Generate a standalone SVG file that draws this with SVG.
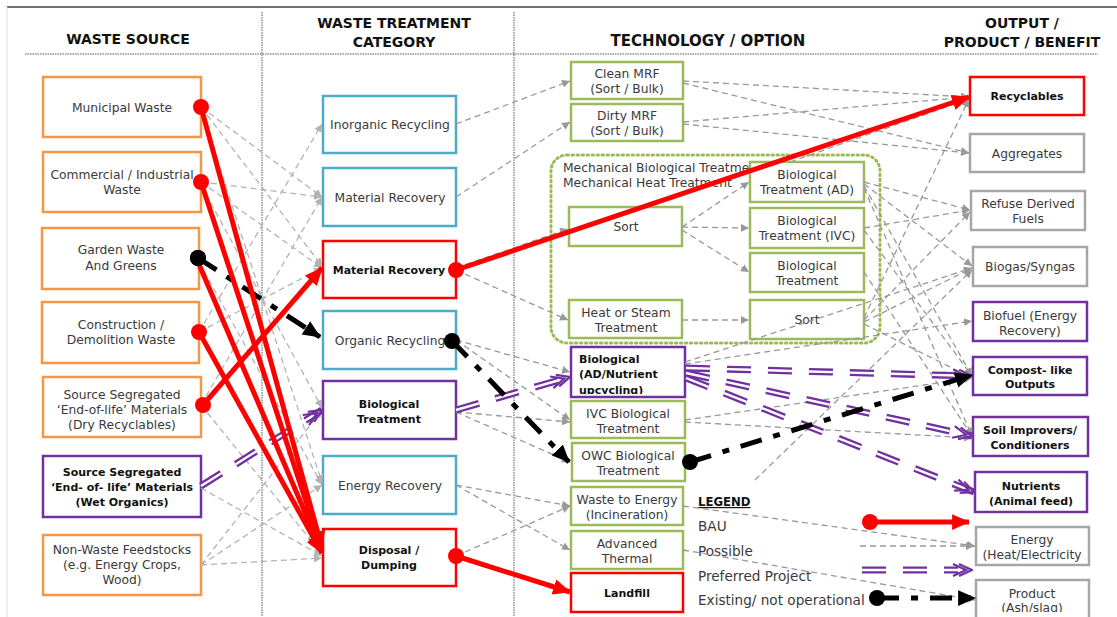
<svg xmlns="http://www.w3.org/2000/svg" width="1117" height="617" viewBox="0 0 1117 617">
<defs>
<style>
text{font-family:"DejaVu Sans","Liberation Sans",sans-serif;font-size:12.3px;fill:#3a3a3a;text-anchor:middle}
.hd{font-size:14px;font-weight:bold;fill:#111}
.b{font-size:11px;font-weight:bold;fill:#111}
.lg{font-size:13.6px;text-anchor:start}
.box{fill:#fff;stroke-width:2.5}
.or{stroke:#F79646}.bl{stroke:#4BACC6}.rd{stroke:#FF0000}.pu{stroke:#7030A0}.gr{stroke:#9BBB59}.gy{stroke:#A6A6A6}
.dl{fill:none;stroke:#999;stroke-width:1.3;stroke-dasharray:6 4;marker-end:url(#ag)}
.dl2{fill:none;stroke:#b3b3b3;stroke-width:1.3;stroke-dasharray:6 4;marker-end:url(#ag2)}
.red{fill:none;stroke:#FF0000;stroke-width:5;marker-end:url(#ar)}
.blk{fill:none;stroke:#000;stroke-width:5;stroke-dasharray:22 12 7 12;marker-end:url(#ak)}
.pb{fill:none;stroke:#7030A0;stroke-width:7;stroke-dasharray:24 17}
.pg{fill:none;stroke:#fff;stroke-width:2.4;stroke-dasharray:24 17}
.pt{fill:none;stroke:none;marker-end:url(#ap)}
</style>
<marker id="ag" viewBox="0 0 8 8" refX="8" refY="4" markerWidth="8" markerHeight="8" markerUnits="userSpaceOnUse" orient="auto"><path d="M0,0 L8,4 L0,8 z" fill="#999"/></marker>
<marker id="ag2" viewBox="0 0 8 8" refX="8" refY="4" markerWidth="8" markerHeight="8" markerUnits="userSpaceOnUse" orient="auto"><path d="M0,0 L8,4 L0,8 z" fill="#b3b3b3"/></marker>
<marker id="ar" viewBox="0 0 16 14" refX="15" refY="7" markerWidth="18" markerHeight="16" markerUnits="userSpaceOnUse" orient="auto"><path d="M0,0 L16,7 L0,14 z" fill="#FF0000"/></marker>
<marker id="ak" viewBox="0 0 16 14" refX="15" refY="7" markerWidth="18" markerHeight="16" markerUnits="userSpaceOnUse" orient="auto"><path d="M0,0 L16,7 L0,14 z" fill="#000"/></marker>
<marker id="ap" viewBox="-8 -1 22 14" refX="13" refY="6" markerWidth="22" markerHeight="14" markerUnits="userSpaceOnUse" orient="auto"><path d="M0,0 L13,6 L0,12 M-6,0 L7,6 L-6,12" fill="none" stroke="#7030A0" stroke-width="2.2"/></marker>
<clipPath id="cpb"><rect x="571" y="347" width="114" height="47"/></clipPath>
<clipPath id="cpf"><rect x="973" y="302" width="114" height="35"/></clipPath>
<clipPath id="cpp"><rect x="976" y="580" width="113" height="32"/></clipPath>
</defs>
<rect width="1117" height="617" fill="#fff"/>
<g id="frame">
<line x1="7" y1="7" x2="1117" y2="7" stroke="#444" stroke-width="1.5"/>
<line x1="7" y1="7" x2="7" y2="617" stroke="#ddd" stroke-width="1"/>
<line x1="25" y1="54" x2="1098" y2="54" stroke="#555" stroke-width="1.2" stroke-dasharray="1.5 1"/>
<line x1="262" y1="12" x2="262" y2="617" stroke="#555" stroke-width="1" stroke-dasharray="1.5 1"/>
<line x1="514" y1="12" x2="514" y2="617" stroke="#555" stroke-width="1" stroke-dasharray="1.5 1"/>
<text class="hd" x="128" y="44">WASTE SOURCE</text>
<text class="hd" x="394" y="28">WASTE TREATMENT</text>
<text class="hd" x="394" y="47">CATEGORY</text>
<text class="hd" x="708" y="46" style="font-size:15px">TECHNOLOGY / OPTION</text>
<text class="hd" x="1022" y="28">OUTPUT /</text>
<text class="hd" x="1022" y="47">PRODUCT / BENEFIT</text>
</g>
<g id="mbt-group">
<rect x="551" y="155" width="329" height="188" rx="16" fill="none" stroke="#9BBB59" stroke-width="3" stroke-dasharray="1.5 3.5" stroke-linecap="round"/>
<text x="563" y="172" style="text-anchor:start">Mechanical Biological Treatment</text>
<text x="563" y="187" style="text-anchor:start">Mechanical Heat Treatment</text>
</g>
<g id="n-municipal"><rect class="box or" x="43" y="77" width="158" height="60"/><text x="122" y="112">Municipal Waste</text></g>
<g id="n-commercial"><rect class="box or" x="43" y="152" width="158" height="60"/><text x="122" y="179">Commercial / Industrial</text><text x="122" y="194">Waste</text></g>
<g id="n-garden"><rect class="box or" x="42" y="228" width="157" height="61"/><text x="121" y="254">Garden Waste</text><text x="121" y="270">And Greens</text></g>
<g id="n-construction"><rect class="box or" x="42" y="302" width="157" height="61"/><text x="121" y="329">Construction /</text><text x="121" y="344">Demolition Waste</text></g>
<g id="n-dry"><rect class="box or" x="43" y="377" width="158" height="60"/><text x="122" y="399">Source Segregated</text><text x="122" y="414">‘End-of-life’ Materials</text><text x="122" y="429">(Dry Recyclables)</text></g>
<g id="n-wet"><rect class="box pu" x="43" y="456" width="158" height="61"/><text class="b" x="122" y="476">Source Segregated</text><text class="b" x="122" y="491">‘End- of- life’ Materials</text><text class="b" x="122" y="506">(Wet Organics)</text></g>
<g id="n-nonwaste"><rect class="box or" x="43" y="535" width="158" height="60"/><text x="122" y="554">Non-Waste Feedstocks</text><text x="122" y="569">(e.g. Energy Crops,</text><text x="122" y="584">Wood)</text></g>

<g id="n-inorganic"><rect class="box bl" x="323" y="96" width="133" height="57"/><text x="390" y="129">Inorganic Recycling</text></g>
<g id="n-matrec1"><rect class="box bl" x="323" y="168" width="133" height="58"/><text x="390" y="202">Material Recovery</text></g>
<g id="n-matrec2"><rect class="box rd" x="323" y="241" width="133" height="57"/><text class="b" x="389" y="274">Material Recovery</text></g>
<g id="n-organic"><rect class="box bl" x="323" y="311" width="133" height="58"/><text x="390" y="345">Organic Recycling</text></g>
<g id="n-biotreat"><rect class="box pu" x="323" y="381" width="133" height="58"/><text class="b" x="389" y="408">Biological</text><text class="b" x="389" y="423">Treatment</text></g>
<g id="n-energyrec"><rect class="box bl" x="323" y="456" width="133" height="58"/><text x="390" y="490">Energy Recovery</text></g>
<g id="n-disposal"><rect class="box rd" x="323" y="529" width="133" height="57"/><text class="b" x="389" y="554">Disposal /</text><text class="b" x="389" y="569">Dumping</text></g>

<g id="n-cleanmrf"><rect class="box gr" x="571" y="62" width="112" height="37"/><text x="627" y="78">Clean MRF</text><text x="627" y="93">(Sort / Bulk)</text></g>
<g id="n-dirtymrf"><rect class="box gr" x="571" y="104" width="112" height="37"/><text x="627" y="120">Dirty MRF</text><text x="627" y="135">(Sort / Bulk)</text></g>
<g id="n-sort1"><rect class="box gr" x="569" y="207" width="113" height="39"/><text x="626" y="231">Sort</text></g>
<g id="n-heat"><rect class="box gr" x="569" y="300" width="113" height="38"/><text x="626" y="317">Heat or Steam</text><text x="626" y="332">Treatment</text></g>
<g id="n-bioad"><rect class="box gr" x="750" y="162" width="114" height="40"/><text x="807" y="179">Biological</text><text x="807" y="194">Treatment (AD)</text></g>
<g id="n-bioivc"><rect class="box gr" x="750" y="208" width="114" height="40"/><text x="807" y="225">Biological</text><text x="807" y="240">Treatment (IVC)</text></g>
<g id="n-biot"><rect class="box gr" x="750" y="253" width="114" height="39"/><text x="807" y="270">Biological</text><text x="807" y="285">Treatment</text></g>
<g id="n-sort2"><rect class="box gr" x="750" y="300" width="114" height="39"/><text x="807" y="324">Sort</text></g>
<g id="n-bionutrient"><rect class="box pu" x="571" y="347" width="114" height="50"/><g clip-path="url(#cpb)"><text class="b" x="579" y="363" style="text-anchor:start">Biological</text><text class="b" x="579" y="378" style="text-anchor:start">(AD/Nutrient</text><text class="b" x="579" y="394" style="text-anchor:start">upcycling)</text></g></g>
<g id="n-ivcbio"><rect class="box gr" x="571" y="401" width="114" height="37"/><text x="628" y="418">IVC Biological</text><text x="628" y="433">Treatment</text></g>
<g id="n-owc"><rect class="box gr" x="572" y="443" width="113" height="38"/><text x="628" y="460">OWC Biological</text><text x="628" y="475">Treatment</text></g>
<g id="n-wte"><rect class="box gr" x="571" y="487" width="112" height="38"/><text x="627" y="504">Waste to Energy</text><text x="627" y="519">(Incineration)</text></g>
<g id="n-advthermal"><rect class="box gr" x="571" y="531" width="112" height="38"/><text x="627" y="548">Advanced</text><text x="627" y="563">Thermal</text></g>
<g id="n-landfill"><rect class="box rd" x="571" y="573" width="112" height="39"/><text class="b" x="627" y="597">Landfill</text></g>

<g id="n-recyclables"><rect class="box rd" x="970" y="77" width="114" height="38"/><text class="b" x="1027" y="100">Recyclables</text></g>
<g id="n-aggregates"><rect class="box gy" x="970" y="134" width="114" height="38"/><text x="1027" y="158">Aggregates</text></g>
<g id="n-rdf"><rect class="box gy" x="971" y="191" width="114" height="39"/><text x="1028" y="208">Refuse Derived</text><text x="1028" y="223">Fuels</text></g>
<g id="n-biogas"><rect class="box gy" x="973" y="247" width="114" height="39"/><text x="1030" y="271">Biogas/Syngas</text></g>
<g id="n-biofuel"><rect class="box pu" x="973" y="302" width="114" height="39"/><g clip-path="url(#cpf)"><text x="1030" y="320">Biofuel (Energy</text><text x="1030" y="335">Recovery)</text></g></g>
<g id="n-compost"><rect class="box pu" x="973" y="357" width="114" height="38"/><text class="b" x="1030" y="374">Compost- like</text><text class="b" x="1030" y="388">Outputs</text></g>
<g id="n-soil"><rect class="box pu" x="973" y="417" width="115" height="39"/><text class="b" x="1030" y="434">Soil Improvers/</text><text class="b" x="1030" y="449">Conditioners</text></g>
<g id="n-nutrients"><rect class="box pu" x="975" y="472" width="112" height="40"/><text class="b" x="1031" y="490">Nutrients</text><text class="b" x="1031" y="505">(Animal feed)</text></g>
<g id="n-energy"><rect class="box gy" x="976" y="527" width="113" height="38"/><text x="1032" y="544">Energy</text><text x="1032" y="559">(Heat/Electricity</text></g>
<g id="n-product"><rect class="box gy" x="976" y="580" width="113" height="40"/><g clip-path="url(#cpp)"><text x="1032" y="598">Product</text><text x="1032" y="612">(Ash/slag)</text></g></g>

<g id="legend">
<text class="b" x="698" y="506" style="text-anchor:start;text-decoration:underline;font-size:11.7px">LEGEND</text>
<text class="lg" x="698" y="531">BAU</text>
<text class="lg" x="698" y="556">Possible</text>
<text class="lg" x="698" y="581">Preferred Project</text>
<text class="lg" x="698" y="605">Existing/ not operational</text>
</g>

<g id="connectors">
<path class="dl2" d="M201,107 L322,197"/>
<path class="dl2" d="M201,107 L322,266"/>
<path class="dl2" d="M201,110 L322,483"/>
<path class="dl2" d="M201,182 L322,197"/>
<path class="dl2" d="M201,182 L322,268"/>
<path class="dl2" d="M201,185 L322,408"/>
<path class="dl2" d="M199,262 L322,485"/>
<path class="dl2" d="M199,332 L322,124"/>
<path class="dl2" d="M199,332 L322,268"/>
<path class="dl2" d="M201,405 L322,197"/>
<path class="dl2" d="M201,405 L322,554"/>
<path class="dl2" d="M201,488 L322,556"/>
<path class="dl2" d="M201,565 L322,410"/>
<path class="dl2" d="M201,565 L322,485"/>
<path class="dl2" d="M201,565 L322,558"/>

<path class="dl" d="M456,124 L570,81"/>
<path class="dl" d="M456,197 L570,122"/>
<path class="dl" d="M456,268 L568,229"/>
<path class="dl" d="M456,270 L568,320"/>
<path class="dl" d="M456,340 L570,372"/>
<path class="dl" d="M456,340 L570,420"/>
<path class="dl" d="M456,412 L570,422"/>
<path class="dl" d="M456,412 L570,462"/>
<path class="dl" d="M456,485 L570,506"/>
<path class="dl" d="M456,485 L570,550"/>
<path class="dl" d="M456,556 L570,506"/>

<path class="dl" d="M683,81 L969,97"/>
<path class="dl" d="M683,83 L969,153"/>
<path class="dl" d="M683,122 L969,97"/>
<path class="dl" d="M683,124 L969,153"/>
<path class="dl" d="M790,162 L969,99"/>
<path class="dl" d="M682,227 L749,182"/>
<path class="dl" d="M682,227 L749,228"/>
<path class="dl" d="M682,230 L749,272"/>
<path class="dl" d="M682,320 L749,320"/>
<path class="dl" d="M864,182 L970,210"/>
<path class="dl" d="M864,184 L972,266"/>
<path class="dl" d="M864,186 L972,376"/>
<path class="dl" d="M864,188 L972,436"/>
<path class="dl" d="M864,228 L970,210"/>
<path class="dl" d="M864,230 L972,376"/>
<path class="dl" d="M864,272 L972,436"/>
<path class="dl" d="M864,318 L969,99"/>
<path class="dl" d="M864,320 L970,212"/>
<path class="dl" d="M864,322 L972,268"/>
<path class="dl" d="M864,324 L972,378"/>
<path class="dl" d="M685,362 L972,268"/>
<path class="dl" d="M685,364 L972,321"/>
<path class="dl" d="M685,420 L972,378"/>
<path class="dl" d="M685,422 L972,438"/>
<path class="dl" d="M755,480 L972,270"/>
<path class="dl" d="M683,506 L975,546"/>
<path class="dl" d="M683,550 L975,600"/>

<g id="c-pref">
<path class="pb" d="M201,486 L322,410"/><path class="pg" d="M201,486 L322,410"/><path class="pt" d="M201,486 L322,410"/>
<path class="pb" d="M456,410 L570,377"/><path class="pg" d="M456,410 L570,377"/><path class="pt" d="M456,410 L570,377"/>
<path class="pb" d="M686,368 L972,376"/><path class="pg" d="M686,368 L972,376"/><path class="pt" d="M686,368 L972,376"/>
<path class="pb" d="M686,373 L972,436"/><path class="pg" d="M686,373 L972,436"/><path class="pt" d="M686,373 L972,436"/>
<path class="pb" d="M686,378 L974,492"/><path class="pg" d="M686,378 L974,492"/><path class="pt" d="M686,378 L974,492"/>
</g>

<g id="c-existing">
<path class="blk" d="M198,258 L320,337"/><circle cx="198" cy="258" r="8"/>
<path class="blk" d="M452,341 L569,462"/><circle cx="452" cy="341" r="8"/>
<path class="blk" d="M690,462 L972,375"/><circle cx="690" cy="462" r="8"/>
</g>

<g id="c-bau">
<path class="red" d="M201,107 L322,548"/><circle cx="201" cy="107" r="8" fill="#FF0000"/>
<path class="red" d="M201,182 L322,550"/><circle cx="201" cy="182" r="8" fill="#FF0000"/>
<path class="red" d="M198,262 L322,552"/>
<path class="red" d="M199,332 L322,553"/><circle cx="199" cy="332" r="8" fill="#FF0000"/>
<path class="red" d="M203,405 L322,268"/><circle cx="203" cy="405" r="8" fill="#FF0000"/>
<path class="red" d="M456,270 L969,97"/><circle cx="456" cy="270" r="8" fill="#FF0000"/>
<path class="red" d="M456,556 L570,592"/><circle cx="456" cy="556" r="8" fill="#FF0000"/>
<circle cx="198" cy="258" r="8"/>
</g>

<g id="c-legend">
<path class="red" d="M870,522 L969,522"/><circle cx="870" cy="522" r="8" fill="#FF0000"/>
<path class="dl" d="M860,546 L974,546"/>
<path class="pb" d="M862,570 L958,570"/><path class="pg" d="M862,570 L958,570"/><path class="pt" d="M862,570 L972,570"/>
<path class="blk" d="M877,598 L975,598"/><circle cx="877" cy="598" r="8"/>
</g>
</g>
</svg>
